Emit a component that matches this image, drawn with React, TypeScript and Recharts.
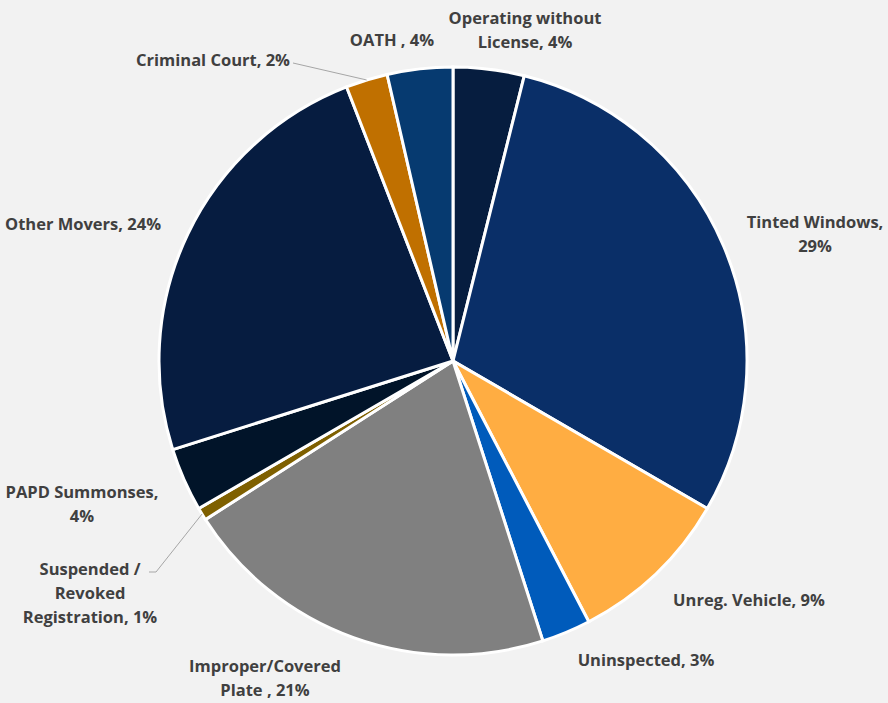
import { PieChart, Pie, Cell } from "recharts";

const categories = [
  "Operating without License",
  "Tinted Windows",
  "Unreg. Vehicle",
  "Uninspected",
  "Improper/Covered Plate",
  "Suspended / Revoked Registration",
  "PAPD Summonses",
  "Other Movers",
  "Criminal Court",
  "OATH",
];

const shares = [3.9, 29.5, 9.0, 2.7, 20.9, 0.7, 3.5, 24.0, 2.3, 3.6];

const labelLines = [
  ["Operating without", "License, 4%"],
  ["Tinted Windows,", "29%"],
  ["Unreg. Vehicle, 9%"],
  ["Uninspected, 3%"],
  ["Improper/Covered", "Plate , 21%"],
  ["Suspended /", "Revoked", "Registration, 1%"],
  ["PAPD Summonses,", "4%"],
  ["Other Movers, 24%"],
  ["Criminal Court, 2%"],
  ["OATH , 4%"],
];

const colors = [
  "#061d3f",
  "#0a2f68",
  "#ffad42",
  "#005bbb",
  "#808080",
  "#7f6000",
  "#011429",
  "#061c40",
  "#c07000",
  "#063a70",
];

// label anchor, offset from pie centre (first line centre)
const labelPos = [
  { dx: 72, dy: -343 },
  { dx: 362, dy: -139 },
  { dx: 296, dy: 239 },
  { dx: 193, dy: 299 },
  { dx: -188, dy: 305 },
  { dx: -363, dy: 208 },
  { dx: -371, dy: 131 },
  { dx: -370, dy: -137 },
  { dx: -240, dy: -301 },
  { dx: -61, dy: -321 },
];

const data = categories.map((name, i) => ({ name, value: shares[i] }));

const RAD = Math.PI / 180;

function renderLabel(props: any) {
  const { cx, cy, index } = props;
  const p = labelPos[index];
  const lines = labelLines[index];
  return (
    <text
      key={`lbl-${index}`}
      x={cx + p.dx}
      y={cy + p.dy}
      textAnchor="middle"
      fill="#404040"
      fontSize={16.5}
      fontWeight="bold"
      fontFamily="'Open Sans', sans-serif"
    >
      {lines.map((l, k) => (
        <tspan key={k} x={cx + p.dx} dy={k === 0 ? 6 : 24}>
          {l}
        </tspan>
      ))}
    </text>
  );
}

function renderLabelLine(props: any) {
  const { cx, cy, midAngle, outerRadius, index } = props;
  const sx = cx + outerRadius * Math.cos(-midAngle * RAD);
  const sy = cy + outerRadius * Math.sin(-midAngle * RAD);
  if (index === 8) {
    return <path key="ll8" d={`M${sx},${sy}L${cx - 160},${cy - 298}`} stroke="#a6a6a6" fill="none" strokeWidth={1} />;
  }
  if (index === 5) {
    return (
      <path
        key="ll5"
        d={`M${sx},${sy}L${cx - 297},${cy + 211}L${cx - 304},${cy + 211}`}
        stroke="#a6a6a6"
        fill="none"
        strokeWidth={1}
      />
    );
  }
  return <g key={`ll${index}`} />;
}

export default function App() {
  return (
    <div style={{ position: "absolute", left: 0, top: 0, width: 888, height: 703, background: "#f2f2f2" }}>
      <PieChart width={888} height={703} margin={{ top: 0, right: 0, bottom: 0, left: 0 }}>
        <Pie
          data={data}
          dataKey="value"
          nameKey="name"
          cx={453}
          cy={361}
          outerRadius={294}
          startAngle={90}
          endAngle={-270}
          stroke="#ffffff"
          strokeWidth={3}
          label={renderLabel}
          labelLine={renderLabelLine}
          isAnimationActive={false}
        >
          {data.map((d, i) => (
            <Cell key={d.name} fill={colors[i]} />
          ))}
        </Pie>
      </PieChart>
    </div>
  );
}
